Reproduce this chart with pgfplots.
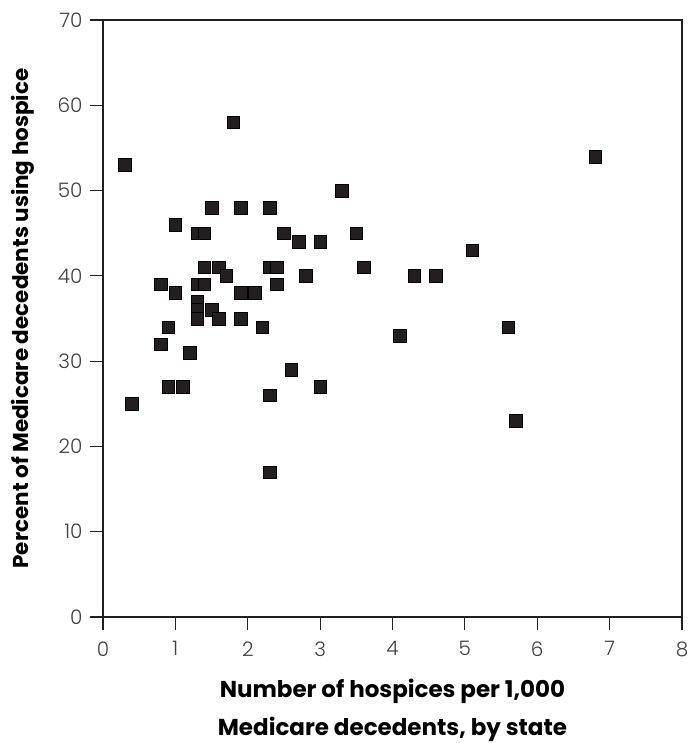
\documentclass[border=0pt]{standalone}
\usepackage{fontspec}
\setmainfont{Poppins}
\newfontfamily\lightfont{Poppins Light}
\usepackage{pgfplots}
\pgfplotsset{compat=1.18}
\definecolor{markc}{HTML}{231F20}
\begin{document}
\begin{tikzpicture}
\begin{axis}[
  name=ax,
  scale only axis, width=579pt, height=597pt,
  xmin=0, xmax=8, ymin=0, ymax=70,
  xtick={0,1,...,8}, ytick={0,10,...,70},
  tick align=outside, tick pos=left, major tick length=13pt,
  axis line style={line width=1.2pt, color=markc},
  major tick style={line width=1.2pt, color=markc},
  /pgf/number format/assume math mode=true,
  tick label style={font=\fontsize{20}{24}\selectfont\lightfont, color=black!75},
  xticklabel style={yshift=-8pt},
  yticklabel style={xshift=-4pt},
  xlabel={Number of hospices per 1,000\\Medicare decedents, by state},
  ylabel={Percent of Medicare decedents using hospice},
  xlabel style={font=\fontsize{23}{38}\selectfont\bfseries, align=center, at={(axis description cs:0.5,0)}, anchor=north, inner sep=0pt, yshift=-62pt},
  ylabel style={font=\fontsize{21.5}{30}\selectfont\bfseries, at={(axis description cs:0,0.5)}, anchor=south, inner sep=0pt, yshift=68pt},
]
\addplot[only marks, mark=square*, mark size=6.3pt, mark options={fill=markc, draw=none}] coordinates {
(0.3,53) (0.4,25) (0.8,39) (0.8,32) (0.9,34) (0.9,27) (1.0,46) (1.0,38)
(1.1,27) (1.2,31) (1.3,45) (1.4,45) (1.3,39) (1.4,39) (1.3,37) (1.3,36)
(1.3,35) (1.4,41) (1.5,48) (1.5,36) (1.6,41) (1.6,35) (1.7,40) (1.8,58)
(1.9,48) (1.9,38) (1.9,35) (2.1,38) (2.2,34) (2.3,48) (2.3,41) (2.4,41)
(2.4,39) (2.3,26) (2.3,17) (2.5,45) (2.6,29) (2.7,44) (2.8,40) (3.0,44)
(3.0,27) (3.3,50) (3.5,45) (3.6,41) (4.1,33) (4.3,40) (4.6,40) (5.1,43)
(5.6,34) (5.7,23) (6.8,54)
};
\end{axis}
\pgfresetboundingbox
\useasboundingbox ([shift={(-103pt,-126pt)}]ax.south west) rectangle ([shift={(17pt,20pt)}]ax.north east);
\end{tikzpicture}
\end{document}
